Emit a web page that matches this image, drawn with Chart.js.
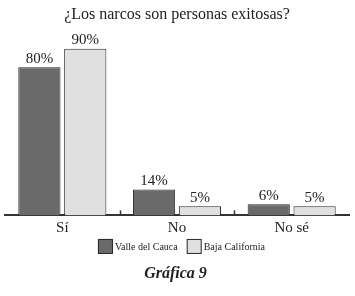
<!DOCTYPE html>
<html>
<head>
<meta charset="utf-8">
<script src="https://cdn.jsdelivr.net/npm/chart.js@4"></script>
<style>
html,body{margin:0;padding:0;background:#fff;}
#wrap{width:355px;height:296px;position:relative;}
</style>
</head>
<body>
<div id="wrap"><canvas id="c" width="355" height="296"></canvas></div>
<script>
const categories = ["Sí", "No", "No sé"];
const valleDelCauca = [80, 14, 6];
const bajaCalifornia = [90, 5, 5];
const seriesNames = ["Valle del Cauca", "Baja California"];
const titleText = "¿Los narcos son personas exitosas?";
const captionText = "Gráfica 9";

const FONT = "'Liberation Serif', 'Times New Roman', serif";

const valueLabels = {
  id: 'valueLabels',
  afterDatasetsDraw(chart) {
    const ctx = chart.ctx;
    ctx.save();
    ctx.font = "15px " + FONT;
    ctx.fillStyle = "#222";
    ctx.textAlign = "center";
    ctx.textBaseline = "bottom";
    chart.data.datasets.forEach((ds, di) => {
      const meta = chart.getDatasetMeta(di);
      meta.data.forEach((bar, i) => {
        ctx.fillText(ds.data[i] + "%", bar.x, bar.y - 1);
      });
    });
    ctx.restore();
  }
};

const innerTicks = {
  id: 'innerTicks',
  afterDraw(chart) {
    const x = chart.scales.x;
    const ctx = chart.ctx;
    const bottom = chart.chartArea.bottom;
    ctx.save();
    ctx.strokeStyle = "#333";
    ctx.lineWidth = 1.5;
    for (let i = 0; i < categories.length - 1; i++) {
      const px = Math.round((x.getPixelForValue(i) + x.getPixelForValue(i + 1)) / 2) + 0.5;
      ctx.beginPath();
      ctx.moveTo(px, bottom);
      ctx.lineTo(px, bottom - 5);
      ctx.stroke();
    }
    ctx.restore();
  }
};

// Legend and caption drawn below the axis
const bottomLegend = {
  id: 'bottomLegend',
  afterDraw(chart) {
    const ctx = chart.ctx;
    const base = chart.chartArea.bottom;
    const box = 15, gap = 2, spacing = 9;
    ctx.save();
    ctx.font = "10px " + FONT;
    const items = chart.data.datasets.map(ds => ({
      text: ds.label, fill: ds.backgroundColor, stroke: ds.borderColor,
      w: ctx.measureText(ds.label).width
    }));
    let total = 0;
    items.forEach((it, i) => { total += box + gap + it.w + (i < items.length - 1 ? spacing : 0); });
    let cx = chart.width / 2 + 4 - total / 2;
    const cy = base + 31;
    ctx.textAlign = "left";
    ctx.textBaseline = "middle";
    items.forEach(it => {
      ctx.fillStyle = it.fill;
      ctx.fillRect(cx, cy - box / 2, box, box);
      ctx.strokeStyle = it.stroke;
      ctx.lineWidth = 1;
      ctx.strokeRect(cx + 0.5, cy - box / 2 + 0.5, box - 1, box - 1);
      ctx.fillStyle = "#222";
      ctx.fillText(it.text, cx + box + gap, cy + 0.5);
      cx += box + gap + it.w + spacing;
    });
    ctx.font = "italic bold 16px " + FONT;
    ctx.textAlign = "center";
    ctx.fillText(captionText, chart.width / 2 - 2, base + 58);
    ctx.restore();
  }
};

new Chart(document.getElementById('c'), {
  type: 'bar',
  data: {
    labels: categories,
    datasets: [
      { label: seriesNames[0], data: valleDelCauca, backgroundColor: "#6a6a6a", borderColor: "#2a2a2a", borderWidth: 1 },
      { label: seriesNames[1], data: bajaCalifornia, backgroundColor: "#e0e0e0", borderColor: "#2a2a2a", borderWidth: 1 }
    ]
  },
  options: {
    responsive: false,
    animation: false,
    devicePixelRatio: 1,
    layout: { padding: { left: 5, right: 6, top: 0, bottom: 55.5 } },
    datasets: { bar: { categoryPercentage: 0.8, barPercentage: 0.92 } },
    scales: {
      x: {
        grid: { display: false, drawTicks: false },
        border: { display: true, color: "#333", width: 2 },
        ticks: { padding: 1.5, color: "#222", font: { family: FONT, size: 15, lineHeight: 1.47 } }
      },
      y: {
        display: false,
        min: 0,
        max: 100
      }
    },
    plugins: {
      title: {
        display: true,
        text: titleText,
        color: "#222",
        font: { family: FONT, size: 16, weight: 'normal' },
        padding: { top: 5, bottom: 6 }
      },
      legend: { display: false },
      tooltip: { enabled: false }
    }
  },
  plugins: [valueLabels, innerTicks, bottomLegend]
});
</script>
</body>
</html>
